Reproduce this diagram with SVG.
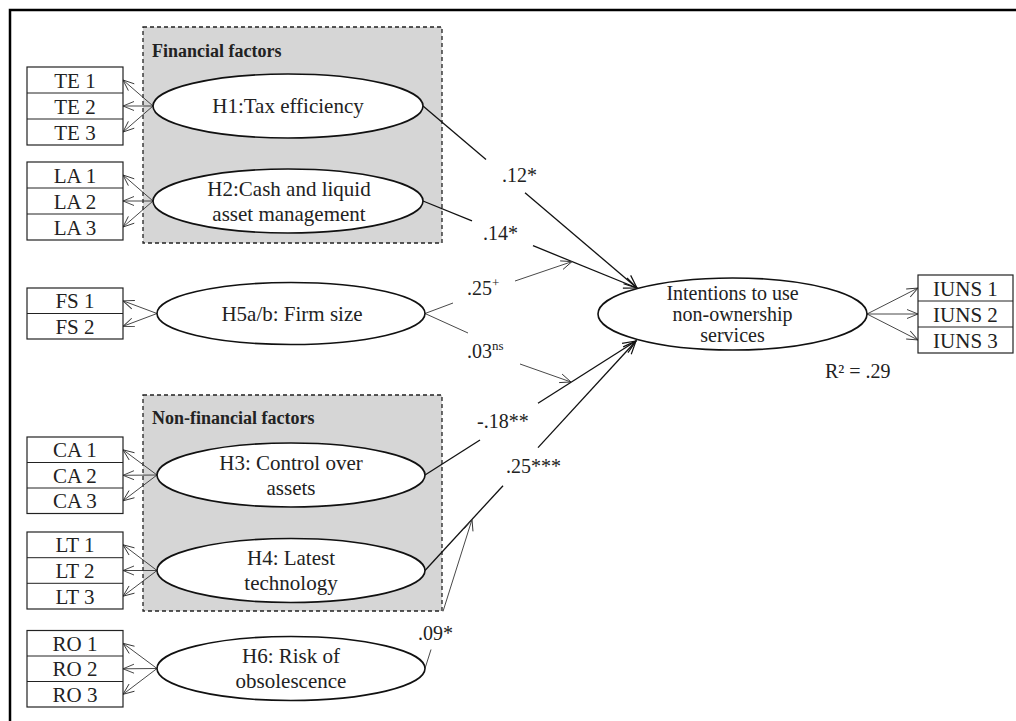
<svg xmlns="http://www.w3.org/2000/svg" width="1016" height="721" viewBox="0 0 1016 721">
<style>
.box{fill:#fff;stroke:#222;stroke-width:1.2}
.sep{stroke:#222;stroke-width:1;fill:none}
.ell{fill:#fff;stroke:#111;stroke-width:1.6}
.t{font-size:21px;fill:#222;text-anchor:middle}
.lbl{font-size:20px;fill:#222}
.grp{fill:#d6d6d6;stroke:#222;stroke-dasharray:4 3;stroke-width:1.3}
.gt{font-weight:bold;font-size:18px;fill:#222}
.c{stroke:#333;stroke-width:0.9;fill:none}
.p{stroke:#111;stroke-width:1.3;fill:none}
</style>
<defs>
<marker id="a" markerUnits="userSpaceOnUse" markerWidth="14" markerHeight="12" refX="11" refY="5" orient="auto" overflow="visible">
<path d="M0,0.5 L11,5 L0,9.5" fill="none" stroke="#333" stroke-width="0.9"/>
</marker>
<marker id="b" markerUnits="userSpaceOnUse" markerWidth="16" markerHeight="14" refX="13" refY="6" orient="auto" overflow="visible">
<path d="M0,0.5 L13,6 L0,11.5" fill="none" stroke="#111" stroke-width="1.2"/>
</marker>
</defs>

<path d="M10,721 L10,10 L1016,10" fill="none" stroke="#000" stroke-width="2.5"/>

<g font-family="'Liberation Serif', 'Times New Roman', Times, serif">
<g id="financial-factors">
<rect class="grp" x="143" y="27" width="299" height="216"/>
<text class="gt" x="152" y="57">Financial factors</text>
</g>
<g id="non-financial-factors">
<rect class="grp" x="143" y="395" width="299" height="216"/>
<text class="gt" x="152" y="424">Non-financial factors</text>
</g>

<g id="connectors">
<path class="c" marker-end="url(#a)" d="M153,106 L123,80"/>
<path class="c" marker-end="url(#a)" d="M153,106 L123,106"/>
<path class="c" marker-end="url(#a)" d="M153,106 L123,132"/>
<path class="c" marker-end="url(#a)" d="M153,201 L123,175"/>
<path class="c" marker-end="url(#a)" d="M153,201 L123,201"/>
<path class="c" marker-end="url(#a)" d="M153,201 L123,227"/>
<path class="c" marker-end="url(#a)" d="M157,313.5 L123,300.8"/>
<path class="c" marker-end="url(#a)" d="M157,313.5 L123,326.3"/>
<path class="c" marker-end="url(#a)" d="M157,475 L123,449.8"/>
<path class="c" marker-end="url(#a)" d="M157,475 L123,475.3"/>
<path class="c" marker-end="url(#a)" d="M157,475 L123,500.8"/>
<path class="c" marker-end="url(#a)" d="M157,570.5 L123,544.8"/>
<path class="c" marker-end="url(#a)" d="M157,570.5 L123,570.5"/>
<path class="c" marker-end="url(#a)" d="M157,570.5 L123,596.2"/>
<path class="c" marker-end="url(#a)" d="M157,668.5 L123,643.3"/>
<path class="c" marker-end="url(#a)" d="M157,668.5 L123,668.8"/>
<path class="c" marker-end="url(#a)" d="M157,668.5 L123,694.3"/>
<path class="c" marker-end="url(#a)" d="M867,314 L918,288"/>
<path class="c" marker-end="url(#a)" d="M867,314 L918,314"/>
<path class="c" marker-end="url(#a)" d="M867,314 L918,340"/>
<path class="p" d="M423,106 L486,159.6"/>
<path class="p" marker-end="url(#b)" d="M525,192.7 L637,288"/>
<path class="p" d="M423,201 L472,220.9"/>
<path class="p" marker-end="url(#b)" d="M533,245.7 L637,288"/>
<path class="c" d="M425,313.5 L453,303"/>
<path class="c" marker-end="url(#a)" d="M515,281 L572,261.6"/>
<path class="c" d="M425,313.5 L468,333"/>
<path class="c" marker-end="url(#a)" d="M520,364 L571,382"/>
<path class="p" d="M425,475 L480,440"/>
<path class="p" marker-end="url(#b)" d="M538,403.2 L636,341"/>
<path class="p" d="M425,570.5 L503,485.7"/>
<path class="p" marker-end="url(#b)" d="M538,447.6 L636,341"/>
<path class="c" d="M425,668.5 L431,649.5"/>
<path class="c" marker-end="url(#a)" d="M443,611.4 L472,519.5"/>
</g>

<g id="TE">
<rect class="box" x="27" y="67" width="96" height="78"/>
<path class="sep" d="M27,93 H123 M27,119 H123"/>
<text class="t" x="75" y="87.5">TE 1</text>
<text class="t" x="75" y="113.5">TE 2</text>
<text class="t" x="75" y="139.5">TE 3</text>
</g>
<g id="LA">
<rect class="box" x="27" y="162" width="96" height="78"/>
<path class="sep" d="M27,188 H123 M27,214 H123"/>
<text class="t" x="75" y="182.5">LA 1</text>
<text class="t" x="75" y="208.5">LA 2</text>
<text class="t" x="75" y="234.5">LA 3</text>
</g>
<g id="FS">
<rect class="box" x="27" y="288" width="96" height="51"/>
<path class="sep" d="M27,313.5 H123"/>
<text class="t" x="75" y="308">FS 1</text>
<text class="t" x="75" y="334">FS 2</text>
</g>
<g id="CA">
<rect class="box" x="27" y="437" width="96" height="76.5"/>
<path class="sep" d="M27,462.5 H123 M27,488 H123"/>
<text class="t" x="75" y="457">CA 1</text>
<text class="t" x="75" y="482.5">CA 2</text>
<text class="t" x="75" y="508">CA 3</text>
</g>
<g id="LT">
<rect class="box" x="27" y="532" width="96" height="77"/>
<path class="sep" d="M27,557.7 H123 M27,583.3 H123"/>
<text class="t" x="75" y="552">LT 1</text>
<text class="t" x="75" y="578">LT 2</text>
<text class="t" x="75" y="603.5">LT 3</text>
</g>
<g id="RO">
<rect class="box" x="27" y="630.5" width="96" height="76.5"/>
<path class="sep" d="M27,656 H123 M27,681.5 H123"/>
<text class="t" x="75" y="650.5">RO 1</text>
<text class="t" x="75" y="676">RO 2</text>
<text class="t" x="75" y="701.5">RO 3</text>
</g>
<g id="IUNS">
<rect class="box" x="918" y="275" width="95" height="78"/>
<path class="sep" d="M918,301 H1013 M918,327 H1013"/>
<text class="t" x="965.5" y="295.5">IUNS 1</text>
<text class="t" x="965.5" y="321.5">IUNS 2</text>
<text class="t" x="965.5" y="347.5">IUNS 3</text>
</g>

<g id="H1">
<ellipse class="ell" cx="288" cy="106" rx="135" ry="32"/>
<text class="t" x="288" y="113">H1:Tax efficiency</text>
</g>
<g id="H2">
<ellipse class="ell" cx="288" cy="201" rx="135" ry="32"/>
<text class="t" x="289" y="195.5">H2:Cash and liquid</text>
<text class="t" x="289" y="220.5">asset management</text>
</g>
<g id="H5">
<ellipse class="ell" cx="291" cy="313.5" rx="134" ry="31"/>
<text class="t" x="292" y="320.5">H5a/b: Firm size</text>
</g>
<g id="H3">
<ellipse class="ell" cx="291" cy="475" rx="134" ry="32"/>
<text class="t" x="291" y="469.5">H3: Control over</text>
<text class="t" x="291" y="494.5">assets</text>
</g>
<g id="H4">
<ellipse class="ell" cx="291" cy="570.5" rx="134" ry="32"/>
<text class="t" x="291" y="565">H4: Latest</text>
<text class="t" x="291" y="590">technology</text>
</g>
<g id="H6">
<ellipse class="ell" cx="291" cy="668.5" rx="134" ry="32"/>
<text class="t" x="291" y="663">H6: Risk of</text>
<text class="t" x="291" y="688">obsolescence</text>
</g>
<g id="intentions">
<ellipse class="ell" cx="732.5" cy="314" rx="134.5" ry="36"/>
<text class="t" x="732.5" y="299.5" style="font-size:20px">Intentions to use</text>
<text class="t" x="732.5" y="320.5" style="font-size:20px">non-ownership</text>
<text class="t" x="732.5" y="341.5" style="font-size:20px">services</text>
</g>

<g id="labels">
<text class="lbl" x="502" y="182">.12*</text>
<text class="lbl" x="483" y="240">.14*</text>
<text class="lbl" x="467" y="295">.25<tspan font-size="13" dy="-8">+</tspan></text>
<text class="lbl" x="467" y="358">.03<tspan font-size="13" dy="-8">ns</tspan></text>
<text class="lbl" x="477" y="428">-.18**</text>
<text class="lbl" x="506" y="473">.25***</text>
<text class="lbl" x="418" y="640">.09*</text>
<text class="lbl" x="825" y="378">R² = .29</text>
</g>
</g>
</svg>
